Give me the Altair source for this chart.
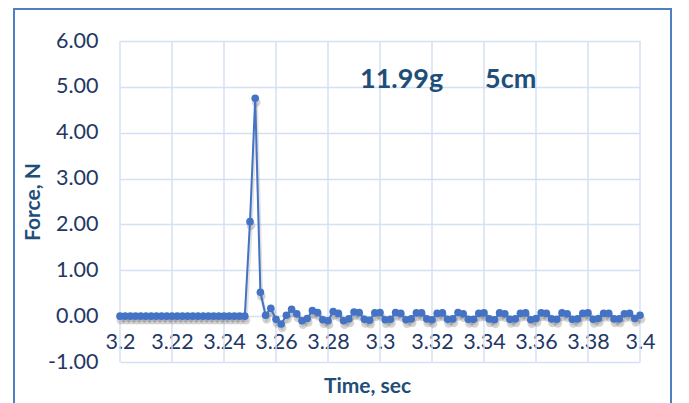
import altair as alt
import pandas as pd

# ---------------- data ----------------
times = [round(3.2 + 0.002 * i, 3) for i in range(101)]
baseline = [0.0] * 25
peak = [2.06, 4.75, 0.52]
tail = [0.02, 0.17, -0.07, -0.17,
        0.02, 0.15, 0.05, -0.10,
        -0.05, 0.12, 0.08, -0.08,
        -0.10, 0.10, 0.06, -0.10,
        -0.06, 0.09, 0.08, -0.07,
        -0.09, 0.07, 0.08, -0.08,
        -0.07, 0.08, 0.06, -0.08,
        -0.06, 0.07, 0.07, -0.06,
        -0.08, 0.06, 0.07, -0.07,
        -0.06, 0.08, 0.05, -0.07,
        -0.07, 0.06, 0.07, -0.06,
        -0.08, 0.07, 0.05, -0.07,
        -0.06, 0.06, 0.07, -0.08,
        -0.05, 0.07, 0.06, -0.06,
        -0.07, 0.07, 0.05, -0.07,
        -0.06, 0.06, 0.07, -0.07,
        -0.05, 0.06, 0.06, -0.06,
        -0.06, 0.05, 0.06, -0.05,
        0.02]
forces = baseline + peak + tail

x_ticks = [3.2, 3.22, 3.24, 3.26, 3.28, 3.3, 3.32, 3.34, 3.36, 3.38, 3.4]
y_ticks = [-1, 0, 1, 2, 3, 4, 5, 6]

ann_text = ["11.99g", "5cm"]
ann_x = [3.2923, 3.3404]
ann_y = [4.97, 4.97]

FONT = "Lato"
LBL = "#1F3864"
TTL = "#1F4E79"
BLUE = "#4472C4"
GRID = "#D4E1F4"

df = pd.DataFrame({"t": times, "f": forces})
grid_df = pd.DataFrame({"t": x_ticks})
ann_df = pd.DataFrame({"txt": ann_text, "t": ann_x, "f": ann_y})
frame_df = pd.DataFrame({"k": [0]})

xscale = alt.Scale(domain=[3.2, 3.4], nice=False, zero=False)
yscale = alt.Scale(domain=[-1, 6], nice=False, zero=False)

x_enc = alt.X(
    "t:Q", scale=xscale,
    axis=alt.Axis(values=x_ticks, format="~g", grid=False, domain=False, ticks=False,
                  offset=-46, labelPadding=15, labelFont=FONT, labelFontSize=21.5,
                  labelColor=LBL, labelFlush=False,
                  title="Time, sec", titleFont=FONT, titleFontSize=21, titleFontWeight="bold",
                  titleColor=TTL, titleX=247, titleY=70, titleBaseline="middle",
                  titleAlign="center"),
)
y_enc = alt.Y(
    "f:Q", scale=yscale,
    axis=alt.Axis(values=y_ticks,
                  labelExpr="(datum.value < 0 ? '-' : '') + format(abs(datum.value), '.2f')",
                  grid=True, gridColor=GRID, gridWidth=1.5, domain=False, ticks=False,
                  labelPadding=22, labelFont=FONT, labelFontSize=21.5, labelColor=LBL,
                  title="Force, N", titleFont=FONT, titleFontSize=21, titleFontWeight="bold",
                  titleColor=TTL, titleX=-87, titleY=160.5, titleBaseline="middle",
                  titleAlign="center", titleAngle=270),
)

vgrid = alt.Chart(grid_df).mark_rule(color=GRID, strokeWidth=1.5).encode(
    x=alt.X("t:Q", scale=xscale), y=alt.datum(-1), y2=alt.datum(6)
)

shadow_line = alt.Chart(df).mark_line(color="#707070", opacity=0.2, strokeWidth=3.5,
                                      yOffset=4, xOffset=1).encode(x=x_enc, y=y_enc)
shadow_pts = alt.Chart(df).mark_circle(color="#707070", opacity=0.3, size=75,
                                       yOffset=4, xOffset=1).encode(x=x_enc, y=y_enc)
line = alt.Chart(df).mark_line(color=BLUE, strokeWidth=2).encode(x=x_enc, y=y_enc)
pts = alt.Chart(df).mark_circle(color=BLUE, opacity=1, size=58).encode(x=x_enc, y=y_enc)

ann = alt.Chart(ann_df).mark_text(font=FONT, fontSize=27, fontWeight="bold", color=TTL,
                                  align="left", baseline="alphabetic").encode(
    x=alt.X("t:Q", scale=xscale), y=alt.Y("f:Q", scale=yscale), text="txt:N"
)

frame = alt.Chart(frame_df).mark_rect(fill="transparent", stroke="#4F7EC2", strokeWidth=2,
                                      clip=False).encode(
    x=alt.value(-106), x2=alt.value(551), y=alt.value(-32), y2=alt.value(420)
)

chart = (vgrid + shadow_line + shadow_pts + line + pts + ann + frame).properties(
    width=520, height=321,
    autosize=alt.AutoSizeParams(type="none"),
    padding={"left": 112, "top": 33, "right": 41, "bottom": 41},
    background="white",
).configure_view(strokeWidth=0)

chart.save("out.html", embed_options={"renderer": "svg", "actions": False})
